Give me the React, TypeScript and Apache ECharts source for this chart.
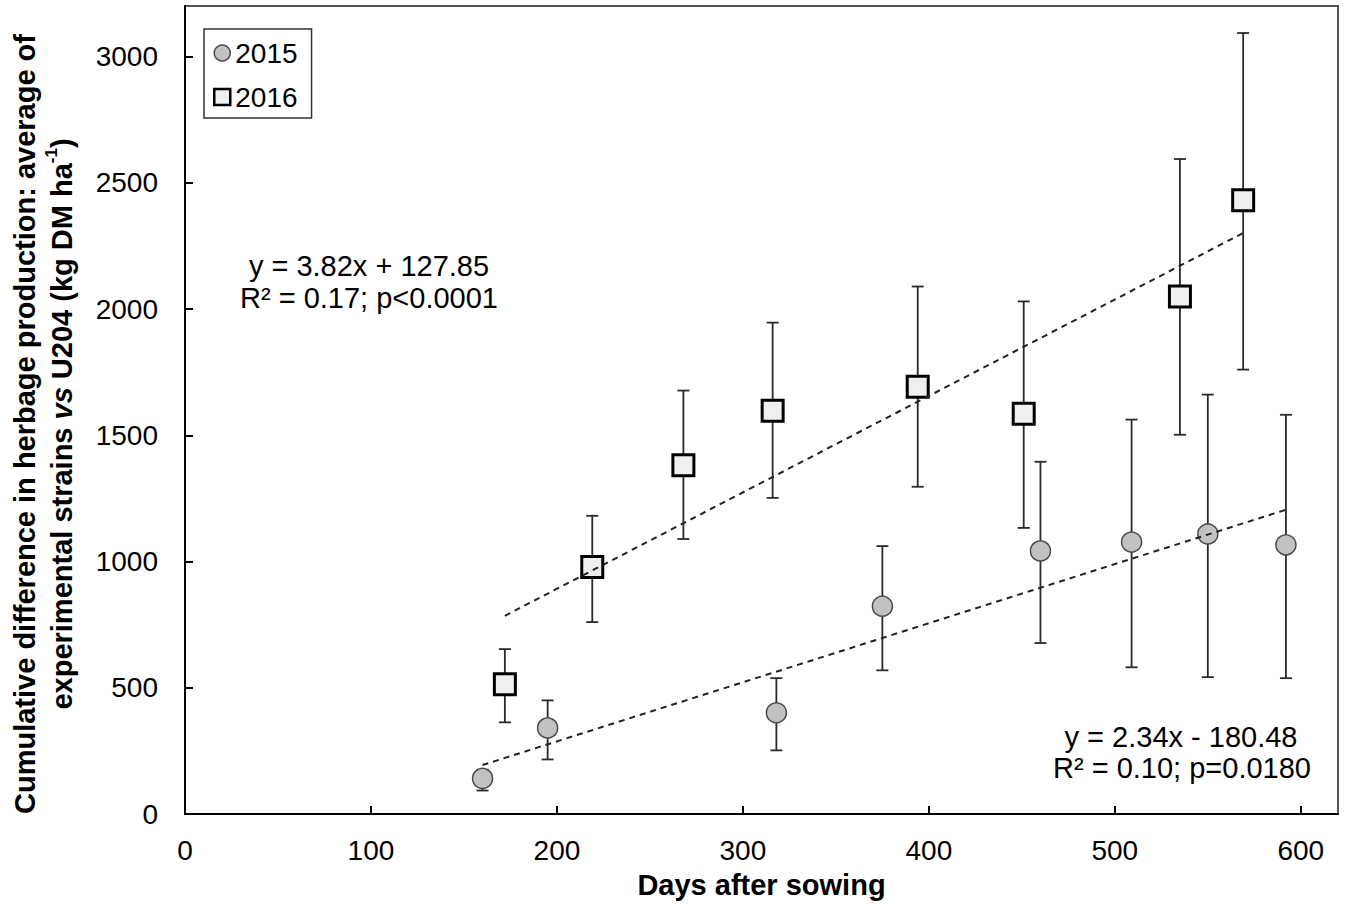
import React, { useEffect, useRef } from "react";
import * as echarts from "echarts";

// ---- data ----
const days2015 = [160, 195, 318, 375, 460, 509, 550, 592];
const mean2015 = [141, 341, 401, 823, 1042, 1077, 1109, 1066];
const low2015 = [93, 216, 252, 569, 677, 581, 542, 538];
const high2015 = [175, 450, 538, 1061, 1395, 1562, 1661, 1581];

const days2016 = [172, 219, 268, 316, 394, 451, 535, 569];
const mean2016 = [514, 978, 1381, 1597, 1692, 1585, 2050, 2431];
const low2016 = [363, 760, 1089, 1252, 1296, 1133, 1502, 1760];
const high2016 = [653, 1181, 1677, 1946, 2089, 2030, 2594, 3093];

// trend line end points (from the fitted equations shown on the chart)
const trend2015 = [
  [160, 194],
  [592, 1205],
];
const trend2016 = [
  [172, 785],
  [569, 2301],
];

const xTicks = [0, 100, 200, 300, 400, 500, 600];
const yTicks = [0, 500, 1000, 1500, 2000, 2500, 3000];

const FONT = "'Liberation Sans', Arial, Helvetica, sans-serif";

function errorRenderer(params: any, api: any) {
  const x = api.value(0);
  const lo = api.value(1);
  const hi = api.value(2);
  const pHi = api.coord([x, hi]);
  const pLo = api.coord([x, lo]);
  const w = 6;
  const style = { stroke: "#2a2a2a", lineWidth: 1.8 };
  return {
    type: "group",
    children: [
      { type: "line", shape: { x1: pHi[0], y1: pHi[1], x2: pLo[0], y2: pLo[1] }, style },
      { type: "line", shape: { x1: pHi[0] - w, y1: pHi[1], x2: pHi[0] + w, y2: pHi[1] }, style },
      { type: "line", shape: { x1: pLo[0] - w, y1: pLo[1], x2: pLo[0] + w, y2: pLo[1] }, style },
    ],
  };
}

export default function App() {
  const ref = useRef<HTMLDivElement>(null);

  useEffect(() => {
    if (!ref.current) return;
    const chart = echarts.init(ref.current, undefined, { renderer: "svg" });

    const pts2015 = days2015.map((d, i) => [d, mean2015[i]]);
    const pts2016 = days2016.map((d, i) => [d, mean2016[i]]);
    const err2015 = days2015.map((d, i) => [d, low2015[i], high2015[i]]);
    const err2016 = days2016.map((d, i) => [d, low2016[i], high2016[i]]);

    const option: any = {
      animation: false,
      backgroundColor: "#ffffff",
      textStyle: { fontFamily: FONT },
      grid: {
        left: 185,
        right: 12,
        top: 6,
        bottom: 100,
        show: true,
        borderColor: "#555",
        borderWidth: 2,
        backgroundColor: "transparent",
      },
      legend: {
        orient: "vertical",
        left: 204,
        top: 29,
        data: [
          { name: "2015", icon: "circle", itemStyle: { color: "#c2c2c2", borderColor: "#4a4a4a", borderWidth: 1.5 } },
          { name: "2016", icon: "rect", itemStyle: { color: "#efefef", borderColor: "#000", borderWidth: 2.5 } },
        ],
        itemWidth: 16,
        itemHeight: 16,
        itemGap: 16,
        selectedMode: false,
        textStyle: { fontSize: 28, color: "#000", fontFamily: FONT },
        borderColor: "#333",
        borderWidth: 1.5,
        padding: [10, 14, 7, 9],
        backgroundColor: "#fff",
      },
      xAxis: {
        type: "value",
        min: 0,
        max: 620,
        interval: 100,
        axisLine: { show: true, onZero: false, lineStyle: { color: "#000", width: 2 } },
        axisTick: { show: true, inside: true, length: 8, lineStyle: { color: "#000", width: 2 }, customValues: xTicks },
        axisLabel: {
          fontSize: 28,
          color: "#000",
          margin: 22,
          fontFamily: FONT,
          customValues: xTicks,
          formatter: (v: number) => String(v),
        },
        splitLine: { show: false },
        name: "Days after sowing",
        nameLocation: "middle",
        nameGap: 56,
        nameTextStyle: { fontSize: 29, fontWeight: "bold", color: "#000", fontFamily: FONT },
      },
      yAxis: {
        type: "value",
        min: 0,
        max: 3200,
        interval: 500,
        axisLine: { show: true, onZero: false, lineStyle: { color: "#000", width: 2 } },
        axisTick: { show: true, inside: true, length: 8, lineStyle: { color: "#000", width: 2 }, customValues: yTicks },
        axisLabel: {
          fontSize: 28,
          color: "#000",
          margin: 27,
          fontFamily: FONT,
          customValues: yTicks,
          formatter: (v: number) => String(v),
        },
        splitLine: { show: false },
      },
      graphic: [
        {
          type: "text",
          x: 43,
          y: 424,
          rotation: Math.PI / 2,
          style: {
            text:
              "{b|Cumulative difference in herbage production: average of}\n" +
              "{b|experimental strains }{bi|vs}{b| U204 (kg DM ha}{sup|-1}{b|)}",
            align: "center",
            verticalAlign: "middle",
            fill: "#000",
            rich: {
              b: { fontSize: 29, fontWeight: "bold", fontFamily: FONT, lineHeight: 37, fill: "#000" },
              bi: { fontSize: 29, fontWeight: "bold", fontStyle: "italic", fontFamily: FONT, lineHeight: 37, fill: "#000" },
              sup: { fontSize: 17, fontWeight: "bold", fontFamily: FONT, lineHeight: 22, verticalAlign: "top", fill: "#000" },
            },
          },
        },
        {
          type: "text",
          x: 369,
          y: 266,
          style: { text: "y = 3.82x + 127.85", fontSize: 29, fontFamily: FONT, fill: "#000", align: "center", verticalAlign: "middle" },
        },
        {
          type: "text",
          x: 369,
          y: 298,
          style: { text: "R² = 0.17; p<0.0001", fontSize: 29, fontFamily: FONT, fill: "#000", align: "center", verticalAlign: "middle" },
        },
        {
          type: "text",
          x: 1181,
          y: 737,
          style: { text: "y = 2.34x - 180.48", fontSize: 29, fontFamily: FONT, fill: "#000", align: "center", verticalAlign: "middle" },
        },
        {
          type: "text",
          x: 1182,
          y: 768,
          style: { text: "R² = 0.10; p=0.0180", fontSize: 29, fontFamily: FONT, fill: "#000", align: "center", verticalAlign: "middle" },
        },
      ],
      series: [
        {
          type: "custom",
          name: "err2015",
          data: err2015,
          renderItem: errorRenderer,
          encode: { x: 0, y: [1, 2] },
          z: 1,
          silent: true,
        },
        {
          type: "custom",
          name: "err2016",
          data: err2016,
          renderItem: errorRenderer,
          encode: { x: 0, y: [1, 2] },
          z: 1,
          silent: true,
        },
        {
          type: "scatter",
          name: "2015",
          data: pts2015,
          symbol: "circle",
          symbolSize: 20,
          itemStyle: { color: "#c2c2c2", borderColor: "#4a4a4a", borderWidth: 1.5, opacity: 1 },
          z: 3,
        },
        {
          type: "scatter",
          name: "2016",
          data: pts2016,
          symbol: "rect",
          symbolSize: 21,
          itemStyle: { color: "#efefef", borderColor: "#000", borderWidth: 3, opacity: 1 },
          z: 3,
        },
        {
          type: "line",
          name: "trend2015",
          data: trend2015,
          showSymbol: false,
          symbol: "none",
          lineStyle: { color: "#222", width: 2, type: [6, 5] },
          z: 4,
          silent: true,
        },
        {
          type: "line",
          name: "trend2016",
          data: trend2016,
          showSymbol: false,
          symbol: "none",
          lineStyle: { color: "#222", width: 2, type: [6, 5] },
          z: 4,
          silent: true,
        },
      ],
    };

    chart.setOption(option);
    return () => chart.dispose();
  }, []);

  return (
    <div
      ref={ref}
      style={{ position: "fixed", left: 0, top: 0, width: 1350, height: 914, background: "#fff" }}
    />
  );
}
